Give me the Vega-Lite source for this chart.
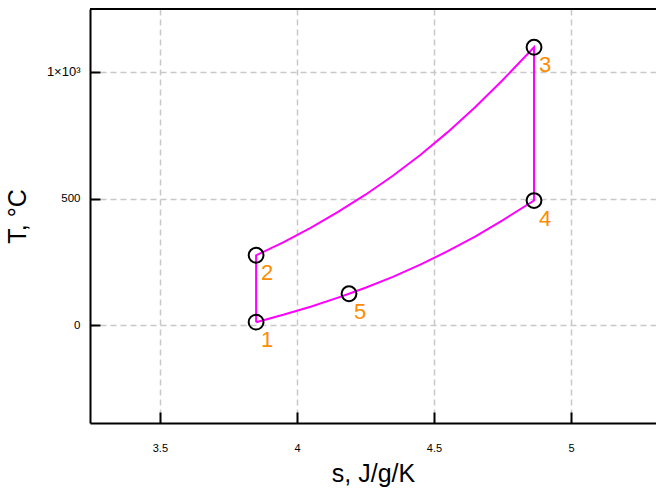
{
  "$schema": "https://vega.github.io/schema/vega-lite/v6.json",
  "autosize": "none",
  "padding": {"left": 90, "top": 9, "right": 0, "bottom": 66},
  "width": 566,
  "height": 414,
  "background": "white",
  "config": {
    "view": {"stroke": null},
    "font": "Liberation Sans"
  },
  "datasets": {
    "cycle": [
      {"order": 1, "s": 3.851, "T": 12},
      {"order": 2, "s": 3.851, "T": 276},
      {"order": 3, "s": 3.95, "T": 327},
      {"order": 4, "s": 4.05, "T": 384},
      {"order": 5, "s": 4.15, "T": 447},
      {"order": 6, "s": 4.25, "T": 515},
      {"order": 7, "s": 4.35, "T": 590},
      {"order": 8, "s": 4.45, "T": 672},
      {"order": 9, "s": 4.55, "T": 762},
      {"order": 10, "s": 4.65, "T": 860},
      {"order": 11, "s": 4.75, "T": 967},
      {"order": 12, "s": 4.865, "T": 1097},
      {"order": 13, "s": 4.865, "T": 492},
      {"order": 14, "s": 4.75, "T": 414},
      {"order": 15, "s": 4.65, "T": 350},
      {"order": 16, "s": 4.55, "T": 292},
      {"order": 17, "s": 4.45, "T": 239},
      {"order": 18, "s": 4.35, "T": 191},
      {"order": 19, "s": 4.25, "T": 148},
      {"order": 20, "s": 4.19, "T": 124},
      {"order": 21, "s": 4.15, "T": 109},
      {"order": 22, "s": 4.05, "T": 73},
      {"order": 23, "s": 3.95, "T": 41},
      {"order": 24, "s": 3.851, "T": 12}
    ],
    "states": [
      {"label": "1", "s": 3.851, "T": 12},
      {"label": "2", "s": 3.851, "T": 276},
      {"label": "3", "s": 4.865, "T": 1097},
      {"label": "4", "s": 4.865, "T": 492},
      {"label": "5", "s": 4.19, "T": 124}
    ],
    "frame": [{"top": 1248}]
  },
  "layer": [
    {
      "data": {"name": "cycle"},
      "mark": {"type": "line", "color": "#ff00ff", "strokeWidth": 2, "clip": true},
      "encoding": {
        "x": {
          "field": "s", "type": "quantitative",
          "scale": {"domain": [3.245, 5.31], "nice": false, "zero": false},
          "axis": {
            "title": "s, J/g/K",
            "titleFontSize": 25, "titleFontWeight": "normal", "titleColor": "black",
            "titleFont": "Liberation Sans", "titlePadding": 8,
            "values": [3.5, 4, 4.5, 5], "format": "~g",
            "labelFontSize": 11, "labelColor": "black", "labelPadding": 30,
            "tickSize": -11, "tickColor": "black", "tickWidth": 2,
            "domainColor": "black", "domainWidth": 2,
            "grid": true, "gridColor": "#c8c8c8", "gridDash": [6, 4], "gridWidth": 1.5
          }
        },
        "y": {
          "field": "T", "type": "quantitative",
          "scale": {"domain": [-386, 1248], "nice": false, "zero": false},
          "axis": {
            "title": "T, °C",
            "titleFontSize": 25, "titleFontWeight": "normal", "titleColor": "black",
            "titleFont": "Liberation Sans", "titlePadding": 16,
            "values": [0, 500, 1000],
            "labelExpr": "datum.value == 1000 ? '1×10³' : datum.label",
            "labelFontSize": {"condition": {"test": "datum.value == 1000", "value": 13}, "value": 11.5},
            "labelColor": "black", "labelPadding": 20,
            "tickSize": -10, "tickColor": "black", "tickWidth": 2,
            "domainColor": "black", "domainWidth": 2,
            "grid": true, "gridColor": "#c8c8c8", "gridDash": [6, 4], "gridWidth": 1.5
          }
        },
        "order": {"field": "order", "type": "quantitative"}
      }
    },
    {
      "data": {"name": "states"},
      "mark": {"type": "point", "shape": "circle", "filled": false, "color": "black", "strokeWidth": 2, "size": 220, "opacity": 1},
      "encoding": {
        "x": {"field": "s", "type": "quantitative"},
        "y": {"field": "T", "type": "quantitative"}
      }
    },
    {
      "data": {"name": "states"},
      "mark": {"type": "text", "color": "#ff8c00", "fontSize": 22, "dx": 11, "dy": 18, "align": "center", "baseline": "middle"},
      "encoding": {
        "x": {"field": "s", "type": "quantitative"},
        "y": {"field": "T", "type": "quantitative"},
        "text": {"field": "label"}
      }
    },
    {
      "data": {"name": "frame"},
      "mark": {"type": "rule", "color": "black", "strokeWidth": 2},
      "encoding": {
        "y": {"field": "top", "type": "quantitative"}
      }
    }
  ]
}
